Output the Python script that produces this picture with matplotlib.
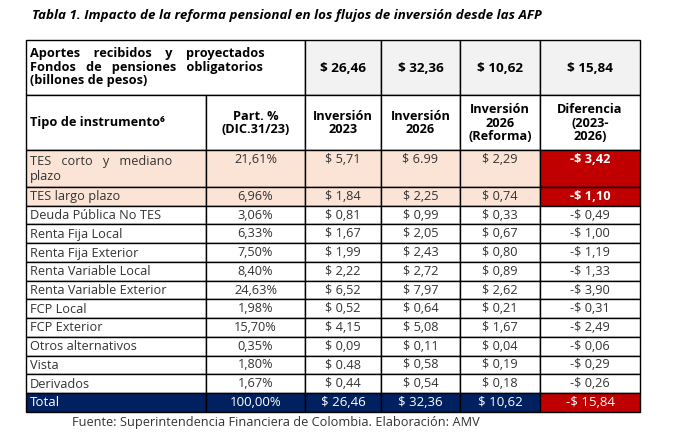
import matplotlib.pyplot as plt
from matplotlib.patches import Rectangle

instrumentos = ["TES   corto   y   mediano\nplazo", "TES largo plazo", "Deuda Pública No TES",
                "Renta Fija Local", "Renta Fija Exterior", "Renta Variable Local",
                "Renta Variable Exterior", "FCP Local", "FCP Exterior",
                "Otros alternativos", "Vista", "Derivados"]
part = ["21,61%", "6,96%", "3,06%", "6,33%", "7,50%", "8,40%", "24,63%",
        "1,98%", "15,70%", "0,35%", "1,80%", "1,67%"]
inv2023 = ["$ 5,71", "$ 1,84", "$ 0,81", "$ 1,67", "$ 1,99", "$ 2,22", "$ 6,52",
           "$ 0,52", "$ 4,15", "$ 0,09", "$ 0.48", "$ 0,44"]
inv2026 = ["$ 6.99", "$ 2,25", "$ 0,99", "$ 2,05", "$ 2,43", "$ 2,72", "$ 7,97",
           "$ 0,64", "$ 5,08", "$ 0,11", "$ 0,58", "$ 0,54"]
inv2026r = ["$ 2,29", "$ 0,74", "$ 0,33", "$ 0,67", "$ 0,80", "$ 0,89", "$ 2,62",
            "$ 0,21", "$ 1,67", "$ 0,04", "$ 0,19", "$ 0,18"]
diferencia = ["-$ 3,42", "-$ 1,10", "-$ 0,49", "-$ 1,00", "-$ 1,19", "-$ 1,33", "-$ 3,90",
              "-$ 0,31", "-$ 2,49", "-$ 0,06", "-$ 0,29", "-$ 0,26"]
aportes = ["$ 26,46", "$ 32,36", "$ 10,62", "$ 15,84"]
total = ["Total", "100,00%", "$ 26,46", "$ 32,36", "$ 10,62", "-$ 15,84"]

font = "Open Sans"
fs = 9.2
fig = plt.figure(figsize=(6.89, 4.44), dpi=100)
ax = fig.add_axes([0, 0, 1, 1])
ax.set_xlim(0, 689)
ax.set_ylim(444, 0)
ax.axis("off")

cols = [26, 206, 305, 381, 460, 540, 640]
rows = [150, 187] + [187 + 18.73 * i for i in range(1, 12)] + [412]

def cell(x0, x1, y0, y1, color):
    ax.add_patch(Rectangle((x0, y0), x1 - x0, y1 - y0, facecolor=color,
                           edgecolor="black", lw=1))

ax.text(32, 15, "Tabla 1. Impacto de la reforma pensional en los flujos de inversión desde las AFP",
        fontsize=9.6, style="italic", fontweight="bold", va="center", family=font)

# header row 1
cell(cols[0], cols[2], 40, 95, "white")
ax.text(30, 67, "Aportes    recibidos    y    proyectados\nFondos   de   pensiones   obligatorios\n(billones de pesos)",
        fontsize=fs, fontweight="bold", va="center", family=font, linespacing=1.05)
for i, v in enumerate(aportes):
    cell(cols[i + 2], cols[i + 3], 40, 95, "#f2f2f2")
    ax.text((cols[i + 2] + cols[i + 3]) / 2, 68, v, fontsize=fs + 0.5, fontweight="bold",
            ha="center", va="center", family=font)

# header row 2
heads = ["Tipo de instrumento⁶", "Part. %\n(DIC.31/23)", "Inversión\n2023", "Inversión\n2026",
         "Inversión\n2026\n(Reforma)", "Diferencia\n(2023-\n2026)"]
for i, h in enumerate(heads):
    cell(cols[i], cols[i + 1], 95, 150, "white")
    if i == 0:
        ax.text(30, 122, h, fontsize=fs, fontweight="bold", va="center", family=font)
    else:
        ax.text((cols[i] + cols[i + 1]) / 2, 123, h, fontsize=fs, fontweight="bold",
                ha="center", va="center", family=font, linespacing=1.05)

# data rows
for r in range(len(instrumentos)):
    y0, y1 = rows[r], rows[r + 1]
    vals = [instrumentos[r], part[r], inv2023[r], inv2026[r], inv2026r[r], diferencia[r]]
    for c, v in enumerate(vals):
        bg = "#fbe4d5" if r < 2 else "white"
        tc = "#333333"
        weight = "normal"
        if c == 5 and r < 2:
            bg, tc, weight = "#c00000", "white", "bold"
        cell(cols[c], cols[c + 1], y0, y1, bg)
        if c == 0:
            ax.text(30, (y0 + y1) / 2 + 0.5, v, fontsize=fs, va="center", family=font,
                    color=tc, linespacing=1.15)
        else:
            ax.text((cols[c] + cols[c + 1]) / 2, y0 + 9.4, v, fontsize=fs, ha="center",
                    va="center", family=font, color=tc, fontweight=weight)

# total row
y0, y1 = rows[-2], rows[-1]
for c, v in enumerate(total):
    bg = "#c00000" if c == 5 else "#002060"
    cell(cols[c], cols[c + 1], y0, y1, bg)
    x = 30 if c == 0 else (cols[c] + cols[c + 1]) / 2
    ax.text(x, (y0 + y1) / 2, v, fontsize=fs + 0.3, color="white", va="center",
            ha="left" if c == 0 else "center", family=font)

ax.text(72, 422, "Fuente: Superintendencia Financiera de Colombia. Elaboración: AMV",
        fontsize=fs, va="center", family=font, color="#333333")

fig.savefig("out.png", dpi=100)
